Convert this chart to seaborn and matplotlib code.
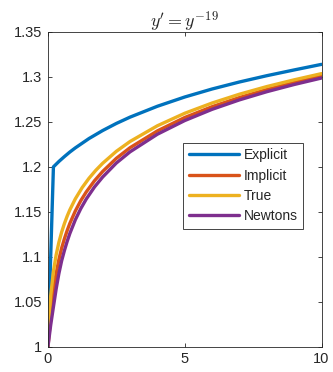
import numpy as np
import pandas as pd
import matplotlib
matplotlib.use('Agg')
import matplotlib.pyplot as plt
import seaborn as sns

# values
t_explicit = [0, 0.2, 0.4, 0.6, 0.8, 1.0, 1.5, 2, 2.5, 3, 4, 5, 6, 7, 8, 9, 10]
y_explicit = [1.0, 1.2, 1.2060, 1.2114, 1.2165, 1.2211, 1.2315, 1.2404, 1.2483,
              1.2553, 1.2674, 1.2777, 1.2866, 1.2944, 1.3014, 1.3078, 1.3140]

t_implicit = [0, 0.1, 0.2, 0.3, 0.4, 0.5, 0.6, 0.7, 0.8, 1.0, 1.2, 1.4, 1.7, 2,
              2.5, 3, 4, 5, 6, 7, 8, 9, 10]
y_implicit = [1.0, 1.0326, 1.0625, 1.0816, 1.0969, 1.1096, 1.1199, 1.1290, 1.1371,
              1.1509, 1.1624, 1.1721, 1.1845, 1.1949, 1.2095, 1.2213, 1.2400,
              1.2549, 1.2669, 1.2771, 1.2860, 1.2938, 1.3010]

t_true = [0, 0.01, 0.02, 0.05, 0.1, 0.2, 0.3, 0.4, 0.5, 0.6, 0.7, 0.8, 1.0, 1.25,
          1.5, 1.75, 2, 2.5, 3, 4, 5, 6, 7, 8, 9, 10]
y_true = [1.0, 1.0092, 1.0170, 1.0353, 1.0565, 1.0838, 1.1022, 1.1161, 1.1274,
          1.1368, 1.1450, 1.1522, 1.1644, 1.1769, 1.1873, 1.1962, 1.2040, 1.2173,
          1.2282, 1.2457, 1.2596, 1.2710, 1.2808, 1.2893, 1.2968, 1.3037]

t_newton = [0, 0.1, 0.2, 0.3, 0.4, 0.5, 0.6, 0.7, 0.8, 1.0, 1.2, 1.4, 1.7, 2,
            2.5, 3, 4, 5, 6, 7, 8, 9, 10]
y_newton = [1.0, 1.0240, 1.0443, 1.0643, 1.0814, 1.0955, 1.1068, 1.1169, 1.1259,
            1.1411, 1.1536, 1.1642, 1.1776, 1.1887, 1.2043, 1.2167, 1.2363,
            1.2515, 1.2640, 1.2745, 1.2836, 1.2916, 1.2988]

names = ['Explicit', 'Implicit', 'True', 'Newtons']
colors = ['#0072BD', '#D95319', '#EDB120', '#7E2F8E']

frames = []
for name, t, y in zip(names, [t_explicit, t_implicit, t_true, t_newton],
                      [y_explicit, y_implicit, y_true, y_newton]):
    frames.append(pd.DataFrame({'t': t, 'y': y, 'method': name}))
df = pd.concat(frames, ignore_index=True)

sns.set_theme(style='ticks')
plt.rcParams['font.family'] = ['Liberation Sans', 'DejaVu Sans']
plt.rcParams['mathtext.fontset'] = 'cm'

fig = plt.figure(figsize=(3.33, 3.72), dpi=100)
ax = fig.add_axes([0.144, 0.068, 0.8215, 0.846])

sns.lineplot(data=df, x='t', y='y', hue='method', hue_order=names,
             palette=colors, estimator=None, sort=True, linewidth=2.4,
             legend=False, ax=ax)

ax.set_xlim(0, 10)
ax.set_ylim(1, 1.35)
ax.set_xticks([0, 5, 10])
ax.set_xticklabels(['0', '5', '10'])
yt = [1, 1.05, 1.1, 1.15, 1.2, 1.25, 1.3, 1.35]
ax.set_yticks(yt)
ax.set_yticklabels(['1', '1.05', '1.1', '1.15', '1.2', '1.25', '1.3', '1.35'])
ax.set_xlabel('')
ax.set_ylabel('')
ax.tick_params(direction='in', length=3, width=0.6, colors='#262626',
               labelsize=10.5, top=True, right=True, pad=4)
for s in ax.spines.values():
    s.set_color('#262626')
    s.set_linewidth(0.6)

ax.set_title(r"$y' = y^{-19}$", fontsize=13, pad=3)

handles = ax.get_lines()[:4]
leg = ax.legend(handles, names, loc='upper left', bbox_to_anchor=(0.494, 0.648),
                borderaxespad=0, fontsize=10, handlelength=3.6, handletextpad=0.35,
                labelspacing=0.45, borderpad=0.4, fancybox=False, framealpha=1)
leg.get_frame().set_edgecolor('#262626')
leg.get_frame().set_linewidth(0.6)

fig.savefig('out.png', dpi=100)
